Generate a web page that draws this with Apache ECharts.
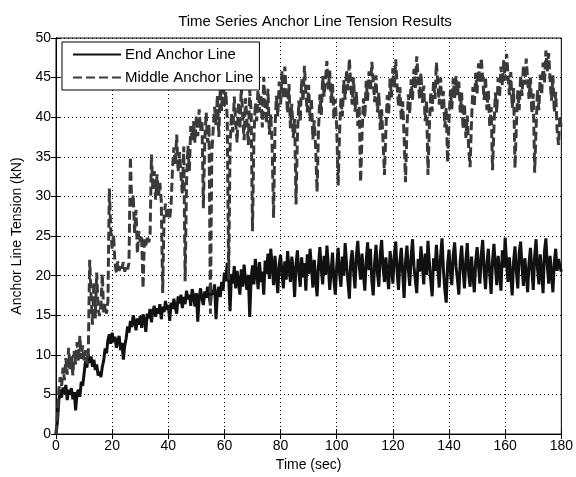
<!DOCTYPE html>
<html>
<head>
<meta charset="utf-8">
<script src="https://cdn.jsdelivr.net/npm/echarts@6/dist/echarts.min.js"></script>
<style>
html,body{margin:0;padding:0;background:#fff;}
#chart{width:576px;height:477px;}
</style>
</head>
<body>
<div id="chart"></div>
<script>
// Sample spacing of both recorded series (seconds)
var timeStep = 0.5;

// End Anchor Line tension (kN), one value every 0.5 s from t = 0 to 180
var endAnchorLine = [
  0, 1.5, 4.2, 5.6, 4.6, 5.9, 5.1, 6.2, 4.3, 5.6, 5.0, 5.8, 4.4, 5.3, 3.0, 5.2, 5.6, 4.7, 6.6, 6.1,
  7.6, 9.2, 8.4, 10.1, 9.0, 9.8, 8.5, 9.4, 8.1, 8.8, 7.4, 7.9, 7.2, 8.5, 9.3, 10.8, 10.2, 11.9, 12.6, 11.4,
  12.8, 11.6, 12.3, 10.9, 11.8, 12.4, 10.6, 11.5, 9.4, 11.2, 12.1, 13.6, 12.8, 14.3, 13.5, 15.0, 14.2, 13.1, 14.6, 13.8,
  14.9, 13.4, 15.1, 14.4, 12.9, 15.2, 14.6, 15.8, 14.1, 15.5, 16.2, 14.8, 15.9, 15.2, 16.4, 14.5, 16.1, 15.4, 16.8, 15.7,
  16.3, 14.3, 16.6, 15.8, 17.1, 16.0, 15.2, 17.4, 16.5, 17.6, 15.9, 17.3, 16.4, 18.1, 17.0, 17.6, 16.2, 18.3, 17.4, 16.1,
  17.8, 14.2, 17.2, 18.4, 17.1, 16.3, 18.0, 17.2, 18.6, 17.5, 16.4, 18.2, 17.6, 18.9, 14.5, 17.8, 18.6, 17.3, 19.2, 18.1,
  20.4, 19.3, 21.6, 19.8, 15.5, 20.2, 19.0, 21.2, 18.4, 20.6, 19.2, 17.6, 20.8, 18.6, 21.4, 19.5, 18.2, 20.1, 14.8, 19.6,
  21.3, 18.9, 22.1, 20.4, 18.3, 21.7, 19.2, 20.5, 17.6, 21.9, 20.2, 22.8, 19.6, 23.4, 21.2, 18.8, 22.5, 20.1, 17.8, 21.4,
  22.6, 20.3, 18.4, 21.8, 19.5, 23.1, 21.0, 19.2, 22.4, 20.6, 17.3, 21.5, 23.2, 20.4, 18.6, 22.3, 19.8, 21.6, 18.1, 22.7,
  20.2, 23.4, 21.1, 18.5, 22.0, 19.6, 17.4, 21.3, 23.6, 20.8, 18.9, 22.5, 20.1, 23.8, 21.4, 18.2, 20.6, 22.9, 19.4, 17.6,
  21.2, 23.5, 20.3, 18.6, 22.4, 20.0, 24.1, 21.5, 19.2, 17.1, 21.8, 23.2, 20.6, 18.4, 22.6, 24.4, 21.3, 19.5, 22.8, 20.2,
  18.1, 21.9, 24.2, 20.7, 23.4, 19.3, 17.5, 21.6, 23.9, 20.4, 18.6, 22.7, 24.5, 21.0, 19.2, 22.3, 20.1, 18.3, 23.1, 21.4,
  19.0, 22.6, 24.3, 20.5, 18.2, 21.8, 23.5, 20.3, 17.2, 21.7, 23.8, 20.9, 18.7, 22.4, 24.6, 21.2, 19.4, 17.8, 22.1, 20.5,
  23.7, 21.3, 18.9, 22.8, 20.1, 24.4, 21.6, 19.3, 17.4, 22.2, 20.6, 23.9, 21.0, 18.5, 22.5, 24.7, 20.8, 18.2, 16.6, 21.4,
  23.3, 20.4, 18.8, 22.6, 24.2, 21.1, 19.5, 17.6, 22.0, 23.8, 20.7, 18.4, 21.9, 24.1, 20.3, 18.6, 22.4, 20.1, 17.9, 21.8,
  23.6, 21.2, 19.0, 22.7, 24.5, 20.6, 18.3, 21.5, 23.4, 20.2, 17.7, 21.9, 24.0, 21.3, 18.8, 22.5, 20.4, 18.1, 23.2, 21.0,
  24.8, 21.6, 19.2, 22.3, 20.0, 17.5, 21.8, 23.7, 20.5, 18.4, 22.9, 24.3, 21.1, 18.7, 22.2, 20.3, 17.9, 21.6, 23.5, 20.8,
  18.2, 22.4, 24.6, 21.0, 18.9, 22.7, 20.4, 17.8, 23.1, 24.7, 21.3, 19.0, 22.5, 20.2, 17.9, 21.7, 23.4, 20.6, 22.1, 21.2,
  20.5
];

// Middle Anchor Line tension (kN), one value every 0.5 s from t = 0 to 180
var middleAnchorLine = [
  0, 2.5, 5.5, 7.2, 6.1, 8.4, 6.8, 9.6, 7.5, 10.9, 8.2, 9.8, 7.4, 10.5, 8.8, 11.6, 9.2, 12.4, 9.5, 11.2,
  9.3, 10.6, 8.9, 10.2, 22.0, 17.5, 13.8, 19.2, 14.6, 20.4, 15.8, 14.9, 16.3, 20.2, 15.1, 16.4, 15.2, 16.8, 31.0, 25.8,
  23.4, 25.2, 21.6, 20.4, 21.8, 20.6, 21.4, 20.9, 21.7, 20.5, 21.3, 20.8, 21.6, 35.0, 28.6, 30.2, 25.4, 28.3, 22.8, 25.6,
  24.3, 25.1, 18.4, 24.6, 23.8, 25.0, 24.2, 24.9, 35.3, 30.8, 33.2, 29.6, 32.8, 30.1, 31.7, 29.4, 17.8, 27.6, 29.1, 27.4,
  28.4, 27.2, 29.0, 33.5, 36.2, 34.0, 37.8, 33.1, 35.6, 32.7, 30.4, 36.3, 19.3, 31.8, 36.4, 33.2, 38.9, 37.1, 39.5, 36.8,
  40.2, 37.6, 41.0, 38.3, 39.6, 28.5, 37.2, 40.6, 36.8, 39.1, 15.2, 35.4, 38.6, 41.3, 39.0, 42.8, 37.5, 43.6, 40.8, 45.2,
  41.4, 43.2, 39.8, 19.5, 36.2, 40.5, 38.1, 42.6, 39.4, 36.8, 41.9, 38.5, 43.8, 40.2, 37.1, 42.4, 39.6, 36.5, 43.4, 40.8,
  25.6, 37.4, 41.8, 39.5, 44.2, 40.6, 42.9, 38.7, 45.1, 41.3, 39.2, 43.6, 37.8, 40.4, 36.2, 27.3, 38.5, 42.7, 40.1, 44.5,
  41.6, 45.8, 42.3, 46.4, 43.1, 40.5, 44.2, 38.6, 41.7, 37.4, 39.8, 29.0, 37.6, 42.1, 39.4, 44.8, 42.0, 46.5, 43.2, 40.6,
  44.1, 39.5, 42.4, 37.2, 39.6, 36.1, 30.6, 38.4, 42.9, 40.3, 45.2, 42.6, 44.8, 47.1, 43.5, 45.9, 41.8, 44.2, 39.7, 42.3,
  38.6, 31.4, 37.9, 42.5, 40.1, 44.7, 42.2, 46.0, 43.4, 47.4, 44.1, 41.6, 45.0, 40.7, 43.2, 38.9, 41.5, 31.8, 37.6, 42.4,
  40.0, 44.6, 42.1, 45.8, 43.3, 47.0, 44.5, 41.9, 45.3, 40.6, 43.1, 38.4, 41.0, 36.9, 32.7, 38.2, 42.8, 40.3, 44.9, 42.5,
  46.2, 43.7, 47.3, 44.0, 41.4, 43.8, 39.6, 42.0, 37.5, 31.8, 38.3, 42.9, 40.4, 44.8, 42.2, 46.1, 43.6, 47.7, 44.9, 42.3,
  45.6, 41.8, 44.0, 39.5, 42.1, 32.7, 38.9, 43.2, 40.7, 44.6, 42.3, 46.9, 44.4, 41.6, 45.0, 40.8, 43.3, 38.7, 41.2, 34.3,
  39.6, 43.5, 41.0, 44.9, 42.4, 45.2, 42.8, 44.5, 40.6, 43.1, 38.5, 41.7, 37.4, 40.2, 36.0, 33.7, 39.4, 43.8, 41.3, 45.6,
  43.0, 46.8, 44.3, 47.5, 44.8, 42.2, 45.1, 40.9, 43.4, 38.8, 41.3, 33.3, 38.7, 43.1, 40.6, 45.0, 42.5, 46.4, 44.0, 47.2,
  44.6, 48.0, 45.4, 42.8, 45.7, 41.2, 43.7, 33.6, 39.0, 43.4, 40.9, 45.3, 42.7, 46.6, 44.1, 47.4, 44.8, 42.3, 45.0, 40.5,
  43.0, 33.0, 38.6, 43.5, 40.9, 45.4, 42.8, 46.9, 44.3, 48.4, 45.8, 48.1, 44.7, 42.1, 45.3, 40.6, 43.2, 38.4, 36.5, 40.2,
  38.5
];

var seriesNames = ['End Anchor Line', 'Middle Anchor Line'];
var titleText = 'Time Series Anchor Line Tension Results';
var xAxisName = 'Time (sec)';
var yAxisName = 'Anchor Line Tension (kN)';

function toPairs(values) {
  return values.map(function (v, i) { return [i * timeStep, v]; });
}

var fontFamily = '"Liberation Sans", Arial, Helvetica, sans-serif';
var chart = echarts.init(document.getElementById('chart'), null, { renderer: 'canvas' });

var dotted = { type: [1, 3], color: '#000', width: 1 };

chart.setOption({
  animation: false,
  backgroundColor: '#fff',
  textStyle: { fontFamily: fontFamily },
  title: {
    text: titleText,
    left: 310,
    top: 9,
    textAlign: 'center',
    textStyle: { fontSize: 15, fontWeight: 'normal', color: '#000', fontFamily: fontFamily }
  },
  grid: { left: 56, right: 12, top: 38, bottom: 40, show: true, borderColor: '#000', borderWidth: 1, backgroundColor: '#fff' },
  legend: {
    orient: 'vertical',
    left: 62,
    top: 42,
    backgroundColor: '#fff',
    borderColor: '#000',
    borderWidth: 1,
    borderRadius: 0,
    padding: [5, 6, 5, 10],
    itemGap: 8,
    itemWidth: 48,
    itemHeight: 15,
    itemStyle: { opacity: 0 },
    textStyle: { fontSize: 15, color: '#000', fontFamily: fontFamily, padding: [0, 0, 0, -1] },
    data: seriesNames
  },
  xAxis: [{
    type: 'value', min: 0, max: 180, interval: 20,
    name: xAxisName, nameLocation: 'middle', nameGap: 22,
    nameTextStyle: { fontSize: 14, color: '#000' },
    axisLine: { show: true, lineStyle: { color: '#000', width: 1 } },
    axisTick: { show: true, inside: true, length: 5, lineStyle: { color: '#000' } },
    axisLabel: { color: '#000', fontSize: 14, margin: 5 },
    splitLine: { show: true, lineStyle: dotted }
  }, {
    type: 'value', min: 0, max: 180, interval: 20, position: 'top',
    axisLine: { show: true, lineStyle: { color: '#000', width: 1 } },
    axisTick: { show: true, inside: true, length: 5, lineStyle: { color: '#000' } },
    axisLabel: { show: false },
    splitLine: { show: false }
  }],
  yAxis: [{
    type: 'value', min: 0, max: 50, interval: 5,
    name: yAxisName, nameLocation: 'middle', nameGap: 31,
    nameTextStyle: { fontSize: 14, color: '#000' },
    axisLine: { show: true, lineStyle: { color: '#000', width: 1 } },
    axisTick: { show: true, inside: true, length: 5, lineStyle: { color: '#000' } },
    axisLabel: { color: '#000', fontSize: 14, margin: 5 },
    splitLine: { show: true, lineStyle: dotted }
  }, {
    type: 'value', min: 0, max: 50, interval: 5, position: 'right',
    axisLine: { show: true, lineStyle: { color: '#000', width: 1 } },
    axisTick: { show: true, inside: true, length: 5, lineStyle: { color: '#000' } },
    axisLabel: { show: false },
    splitLine: { show: false }
  }],
  series: [{
    name: seriesNames[0],
    type: 'line',
    data: toPairs(endAnchorLine),
    symbol: 'none',
    z: 2,
    lineStyle: { color: '#111', width: 3, type: 'solid' },
    itemStyle: { color: '#111' }
  }, {
    name: seriesNames[1],
    type: 'line',
    data: toPairs(middleAnchorLine),
    symbol: 'none',
    z: 3,
    lineStyle: { color: '#3a3a3a', width: 3, type: [9, 4] },
    itemStyle: { color: '#3a3a3a' }
  }]
});
</script>
</body>
</html>
